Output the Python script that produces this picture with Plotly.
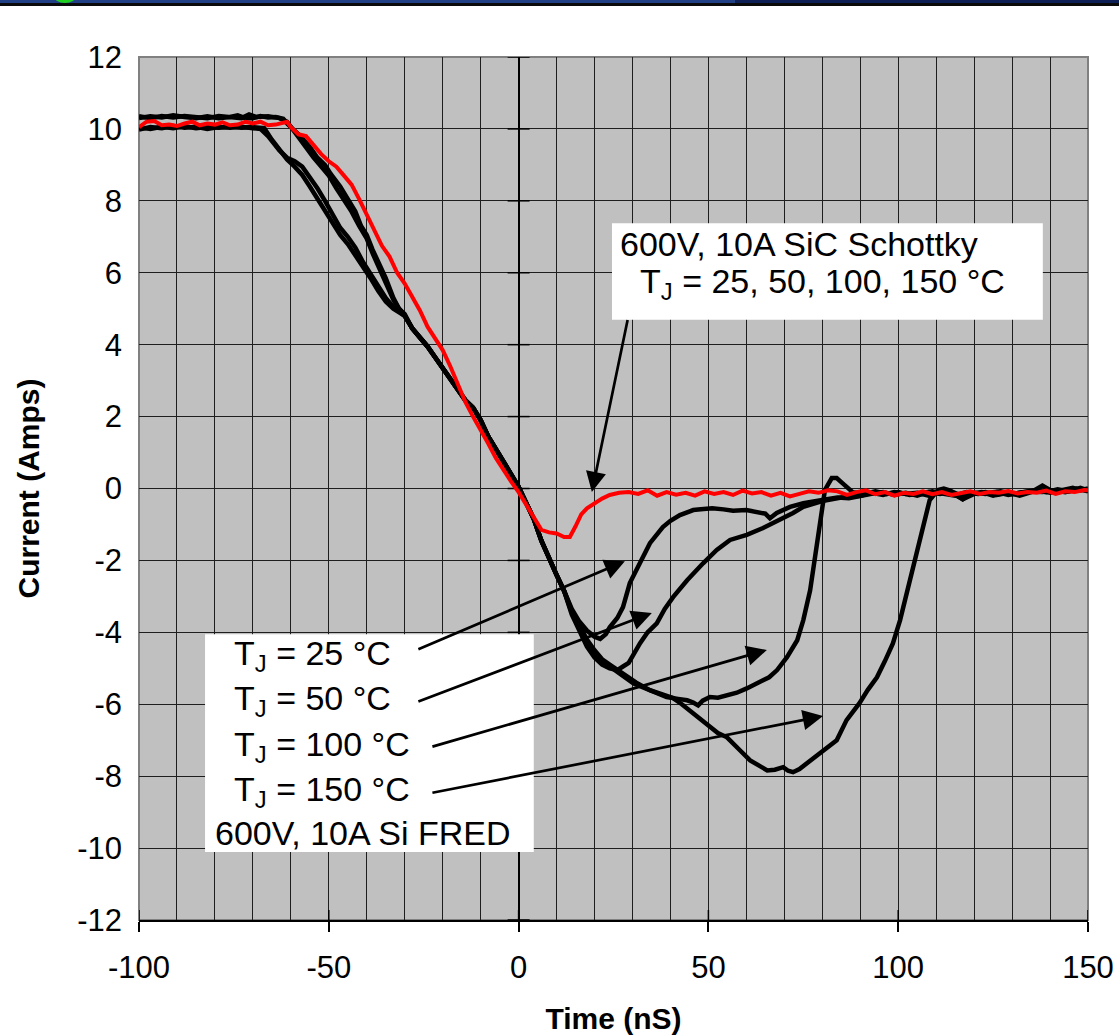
import plotly.graph_objects as go

# ---------------- data ----------------
# SiC Schottky (red)
sic_t = [-100, -98, -96, -94, -92, -90, -88, -86, -84, -82, -80, -78, -76, -74, -72, -70, -68, -66, -64, -62,
         -61, -60, -58, -56, -54, -52, -50, -48, -46, -44, -42, -40, -38, -36, -34, -32, -30, -28, -26, -24,
         -22, -20, -18, -16, -14, -12, -10, -8, -6, -4, -2, 0, 2, 4, 6, 8, 10, 12, 13.5, 15, 16.5, 18, 20, 22,
         24, 26.5, 29, 31.5, 34, 36.5, 39, 41.5, 44, 46.5, 49, 51.5, 54, 56.5, 59, 61.5, 64, 66.5, 69, 71.5,
         74, 76.5, 79, 81.5, 84, 86.5, 89, 91.5, 94, 96.5, 99, 101.5, 104, 106.5, 109, 111.5, 114, 116.5, 119,
         121.5, 124, 126.5, 129, 131.5, 134, 136.5, 139, 141.5, 144, 146.5, 149, 150]
sic_i = [10.05, 10.2, 10.22, 10.1, 10.12, 10.08, 10.15, 10.2, 10.1, 10.15, 10.12, 10.18, 10.1, 10.12, 10.2, 10.15, 10.2, 10.1, 10.12, 10.18,
         10.2, 10.05, 9.85, 9.8, 9.55, 9.3, 9.1, 8.95, 8.7, 8.45, 8.05, 7.6, 7.2, 6.75, 6.45, 6.0, 5.7, 5.35, 4.95, 4.5,
         4.15, 3.85, 3.4, 2.9, 2.4, 2.0, 1.65, 1.25, 0.85, 0.5, 0.2, -0.1, -0.45, -0.85, -1.15, -1.22, -1.25, -1.35, -1.35, -1.05, -0.72, -0.55, -0.4, -0.28,
         -0.18, -0.12, -0.1, -0.15, -0.05, -0.2, -0.1, -0.17, -0.12, -0.2, -0.08, -0.15, -0.1, -0.18, -0.06, -0.14, -0.1, -0.2, -0.12, -0.22,
         -0.15, -0.08, -0.12, -0.05, -0.08, -0.18, -0.1, -0.05, -0.16, -0.1, -0.2, -0.12, -0.15, -0.08, -0.16, -0.1, -0.18, -0.12, -0.08,
         -0.15, -0.1, -0.12, -0.07, -0.14, -0.1, -0.12, -0.06, -0.15, -0.08, -0.1, -0.04, -0.05]

# common FRED descent (all four Si FRED curves overlap here)
common_t = [-28, -26, -24, -22, -20, -18, -16, -14, -12, -10, -8, -6, -4, -2, 0, 2, 4, 6, 8, 10, 12]
common_i = [4.45, 4.2, 3.95, 3.65, 3.35, 3.05, 2.8, 2.45, 2.25, 1.9, 1.45, 1.1, 0.75, 0.35, 0.05, -0.4, -0.85, -1.45, -1.95, -2.4, -2.85]

# Si FRED, TJ = 25 C
f25_start_t = [-100, -97, -94, -91, -88, -85, -82, -79, -76, -73, -70, -68, -66, -65, -63, -61, -59, -57, -55, -53,
               -51, -49, -47, -45, -43, -41, -39, -37, -35, -33, -31, -30]
f25_start_i = [9.98, 10.05, 10.02, 10.08, 10.03, 10.06, 10.0, 10.05, 10.03, 10.06, 10.02, 10.0, 9.8, 9.65, 9.4, 9.2, 9.1, 8.95, 8.67, 8.35,
               8.0, 7.6, 7.25, 7.0, 6.7, 6.3, 5.95, 5.6, 5.3, 5.05, 4.9, 4.8]
f25_end_t = [14, 16, 18, 20, 21.5, 23, 24, 26, 27.5, 29.3, 32, 34.6, 38, 40, 42.5, 46, 48, 51, 54, 56.5, 60, 62.8, 65,
             66.2, 68, 71.5, 75, 80, 84, 87, 90, 93, 96, 99, 102, 105, 108, 111, 114, 117, 120, 123, 126, 129, 132,
             135, 138, 141, 144, 147, 150]
f25_end_i = [-3.35, -3.7, -3.95, -4.12, -4.18, -4.05, -3.86, -3.6, -3.3, -2.63, -2.08, -1.52, -1.07, -0.9, -0.74, -0.6, -0.58, -0.55, -0.58, -0.62, -0.6, -0.65, -0.7,
             -0.83, -0.68, -0.51, -0.41, -0.32, -0.25, -0.27, -0.2, -0.15, -0.1, -0.18, -0.12, -0.2, -0.1, -0.15, -0.08, -0.22, -0.12, -0.15, -0.1, -0.18, -0.12,
             -0.08, -0.1, -0.05, -0.1, -0.02, -0.05]

# Si FRED, TJ = 50 C
f50_start_t = [-100, -97, -94, -91, -88, -85, -82, -79, -76, -73, -70, -67, -65, -63, -61, -59, -57, -55, -53, -51,
               -49, -47, -45, -43, -41, -39, -37, -35, -33, -31, -30]
f50_start_i = [10.05, 10.0, 10.06, 10.02, 10.07, 10.02, 10.05, 10.03, 10.07, 10.03, 10.05, 10.02, 9.7, 9.4, 9.15, 8.95, 8.72, 8.4, 8.05, 7.7,
               7.35, 7.05, 6.8, 6.5, 6.2, 5.85, 5.5, 5.2, 5.0, 4.88, 4.8]
f50_end_t = [14, 16, 18, 20, 22, 24, 26, 27.5, 29, 32, 34, 36.4, 38.5, 40.7, 44.4, 48.6, 52.2, 55.7, 58, 60.1, 64.4,
             68.9, 72.3, 75, 78, 80, 85, 90, 93, 96, 99, 102, 105, 108, 111, 114, 117, 120, 123, 126, 129, 132, 135,
             138, 141, 144, 147, 150]
f50_end_i = [-3.5, -3.95, -4.4, -4.7, -4.9, -5.0, -5.05, -4.95, -4.85, -4.3, -4.0, -3.75, -3.35, -3.02, -2.55, -2.08, -1.71, -1.43, -1.35, -1.29, -1.1,
             -0.88, -0.68, -0.51, -0.4, -0.35, -0.25, -0.2, -0.12, -0.18, -0.1, -0.15, -0.12, -0.2, -0.1, -0.12, -0.3, -0.15, -0.1, -0.18, -0.12, -0.2, -0.1,
             0.08, -0.1, -0.05, 0.0, -0.08]

# Si FRED, TJ = 100 C
f100_start_t = [-100, -97, -94, -91, -88, -85, -82, -79, -76, -74, -72, -70, -68, -66, -64, -62, -61, -59, -57.5, -55,
                -53, -51, -49.5, -47, -45, -43, -41.5, -40, -38.5, -37, -35, -33, -31.5, -30]
f100_start_i = [10.3, 10.35, 10.32, 10.38, 10.33, 10.3, 10.35, 10.3, 10.33, 10.38, 10.3, 10.3, 10.36, 10.32, 10.33, 10.28, 10.15, 9.95, 9.8, 9.5,
                9.2, 9.0, 8.75, 8.4, 8.05, 7.7, 7.3, 7.05, 6.65, 6.3, 5.85, 5.3, 5.0, 4.8]
f100_end_t = [14, 16, 18, 20, 22, 24, 26, 28, 30.2, 32, 34.6, 37, 39, 42, 44.4, 46, 47.3, 48.5, 50.4, 52.5, 54.9, 57.5,
              60.1, 62, 64.4, 66, 68.1, 70.7, 73.4, 75, 76.8, 78.1, 79.4, 80.7, 82.5, 83.8, 85.3, 86.8, 88, 91, 94, 97,
              100, 103, 106, 109, 112, 115, 118, 121, 124, 127, 130, 133, 136, 139, 142, 145, 148, 150]
f100_end_i = [-3.45, -3.85, -4.25, -4.55, -4.8, -4.95, -5.1, -5.25, -5.42, -5.5, -5.61, -5.72, -5.8, -5.85, -5.89, -5.95, -6.03, -5.9, -5.8, -5.82, -5.75, -5.68,
              -5.56, -5.45, -5.33, -5.25, -5.05, -4.69, -4.22, -3.66, -2.83, -1.91, -0.79, -0.04, 0.29, 0.29, 0.15, 0.01, -0.1, -0.15, -0.08, -0.15,
              -0.1, -0.18, -0.12, -0.08, -0.15, -0.2, -0.1, -0.15, -0.12, -0.08, -0.15, -0.1, -0.05, -0.1, -0.02, -0.08, 0.02, -0.05]

# Si FRED, TJ = 150 C
f150_start_t = [-100, -97, -94, -91, -88, -85, -82, -79, -76, -73, -71, -69, -66, -63, -61, -60, -58, -56, -54, -52,
                -50, -48, -46, -44, -42, -40, -38.5, -37, -35, -33, -31.5, -30]
f150_start_i = [10.35, 10.3, 10.36, 10.32, 10.36, 10.33, 10.3, 10.36, 10.32, 10.3, 10.4, 10.33, 10.35, 10.3, 10.2, 10.05, 9.75, 9.5, 9.2, 8.95,
                8.7, 8.35, 8.05, 7.7, 7.3, 6.95, 6.55, 6.2, 5.75, 5.25, 5.0, 4.85]
f150_end_t = [14, 16, 18, 20, 22, 24, 26, 28.5, 31, 34.6, 37, 40.7, 43, 46, 48, 50.4, 52.5, 54.9, 56.5, 58.3, 61, 63,
              65.5, 67.5, 69.7, 71, 72.3, 74, 76, 78, 80.2, 83.8, 86.4, 89.8, 92, 94.4, 96.5, 98.6, 100.5, 103, 105.7,
              108.3, 110.5, 112, 113.5, 115, 117, 119, 122, 125, 128, 131, 134, 137, 140, 143, 146, 148, 150]
f150_end_i = [-3.4, -3.8, -4.2, -4.5, -4.75, -4.9, -5.05, -5.25, -5.4, -5.61, -5.7, -5.83, -6.0, -6.25, -6.45, -6.64, -6.8, -6.92, -7.1, -7.28, -7.56, -7.7,
              -7.84, -7.82, -7.75, -7.85, -7.89, -7.8, -7.64, -7.45, -7.28, -7.0, -6.44, -5.97, -5.6, -5.25, -4.8, -4.31, -3.66, -2.55, -1.44,
              -0.32, -0.04, 0.0, -0.05, -0.15, -0.3, -0.15, -0.1, -0.2, -0.12, -0.15, -0.1, -0.05, -0.12, -0.05, 0.02, -0.05, 0.0]

x_tick_vals = [-100, -50, 0, 50, 100, 150]
x_tick_text = ["-100", "-50", "0", "50", "100", "150"]
y_tick_vals = [-12, -10, -8, -6, -4, -2, 0, 2, 4, 6, 8, 10, 12]
y_tick_text = ["-12", "-10", "-8", "-6", "-4", "-2", "0", "2", "4", "6", "8", "10", "12"]

fred_labels = ["T<sub>J</sub> = 25 °C", "T<sub>J</sub> = 50 °C", "T<sub>J</sub> = 100 °C", "T<sub>J</sub> = 150 °C"]

# ---------------- figure ----------------
FONT = "Liberation Sans, Arial, sans-serif"
fig = go.Figure()

fred_curves = [
    (f25_start_t, f25_start_i, f25_end_t, f25_end_i),
    (f50_start_t, f50_start_i, f50_end_t, f50_end_i),
    (f100_start_t, f100_start_i, f100_end_t, f100_end_i),
    (f150_start_t, f150_start_i, f150_end_t, f150_end_i),
]
for st, si, et, ei in fred_curves:
    fig.add_trace(go.Scatter(x=st + common_t + et, y=si + common_i + ei, mode="lines",
                             line=dict(color="black", width=4.5), hoverinfo="skip"))
fig.add_trace(go.Scatter(x=sic_t, y=sic_i, mode="lines", line=dict(color="#ff0000", width=4), hoverinfo="skip"))

GRID = "#1e1e1e"
fig.update_layout(
    width=1119, height=1035,
    margin=dict(l=139, r=31, t=57, b=115),
    paper_bgcolor="white", plot_bgcolor="#c0c0c0",
    showlegend=False,
    font=dict(family=FONT, color="black", size=31),
    xaxis=dict(range=[-100, 150], tickvals=x_tick_vals, ticktext=x_tick_text,
               automargin=False,
               showgrid=True, gridcolor=GRID, gridwidth=1,
               minor=dict(dtick=10, tick0=-100, showgrid=True, gridcolor=GRID, gridwidth=1),
               zeroline=True, zerolinecolor="black", zerolinewidth=1.5,
               ticks="outside", ticklen=10, tickcolor="black", tickwidth=1.5,
               showline=True, linecolor="black", linewidth=1.5,
               ticklabelstandoff=9,
               tickfont=dict(size=31),
               title=dict(text="<b>Time (nS)</b>", font=dict(size=30), standoff=29)),
    yaxis=dict(range=[-12, 12], tickvals=y_tick_vals, ticktext=y_tick_text,
               automargin=False,
               showgrid=True, gridcolor=GRID, gridwidth=1, zeroline=False,
               ticks="", showline=False, ticklabelstandoff=16,
               tickfont=dict(size=31),
               title=dict(text="<b>Current (Amps)</b>", font=dict(size=30), standoff=28)),
)

shapes = []
# plot border (grey)
shapes.append(dict(type="rect", xref="paper", yref="paper", x0=0, x1=1, y0=0, y1=1,
                   line=dict(color="#808080", width=2), fillcolor="rgba(0,0,0,0)", layer="between"))
# crossing ticks on the vertical axis at t = 0
for v in y_tick_vals:
    shapes.append(dict(type="line", xref="x", yref="y", xsizemode="pixel", xanchor=0, x0=-11, x1=11,
                       y0=v, y1=v, line=dict(color="black", width=1.5), layer="between"))
# crossing ticks on the bottom axis
for v in x_tick_vals:
    shapes.append(dict(type="line", xref="x", yref="y", ysizemode="pixel", yanchor=-12, y0=-10, y1=10,
                       x0=v, x1=v, line=dict(color="black", width=1.5), layer="between"))
# white label boxes
shapes.append(dict(type="rect", xref="x", yref="y", x0=24.6, x1=138.1, y0=4.69, y1=7.38,
                   fillcolor="white", line=dict(width=0), layer="above"))
shapes.append(dict(type="rect", xref="x", yref="y", x0=-82.6, x1=4.0, y0=-10.11, y1=-4.05,
                   fillcolor="white", line=dict(width=0), layer="above"))
# header bar
shapes.append(dict(type="rect", xref="paper", yref="paper", x0=-0.147, x1=0.628, y0=1.0626, y1=1.067,
                   fillcolor="#213f85", line=dict(width=0), layer="above"))
shapes.append(dict(type="rect", xref="paper", yref="paper", x0=0.628, x1=1.033, y0=1.0626, y1=1.067,
                   fillcolor="#0d1f55", line=dict(width=0), layer="above"))
shapes.append(dict(type="rect", xref="paper", yref="paper", x0=-0.147, x1=1.033, y0=1.059, y1=1.0626,
                   fillcolor="#0a0a0a", line=dict(width=0), layer="above"))
shapes.append(dict(type="circle", xref="paper", yref="paper", x0=-0.0896, x1=-0.0664, y0=1.0626, y1=1.078,
                   fillcolor="#1fd01f", line=dict(width=0), layer="above"))
fig.update_layout(shapes=shapes)

ann = []
TXT = dict(size=34, family=FONT, color="black")
ann.append(dict(x=26.2, y=6.79, xref="x", yref="y", text="600V, 10A SiC Schottky", showarrow=False,
                xanchor="left", yanchor="middle", font=TXT))
ann.append(dict(x=31.4, y=5.70, xref="x", yref="y", text="T<sub>J</sub> = 25, 50, 100, 150 °C", showarrow=False,
                xanchor="left", yanchor="middle", font=TXT))
for lab, yy in zip(fred_labels, [-4.64, -5.89, -7.17, -8.42]):
    ann.append(dict(x=-75.5, y=yy, xref="x", yref="y", text=lab, showarrow=False,
                    xanchor="left", yanchor="middle", font=TXT))
ann.append(dict(x=-80.5, y=-9.59, xref="x", yref="y", text="600V, 10A Si FRED", showarrow=False,
                xanchor="left", yanchor="middle", font=TXT))
# arrows (tail -> head)
arrows = [((-26.8, -4.49), (28.0, -2.02)),
          ((-26.8, -5.94), (35.1, -3.46)),
          ((-23.1, -7.19), (65.4, -4.49)),
          ((-23.1, -8.47), (80.2, -6.33)),
          ((28.8, 4.73), (19.3, -0.10))]
for (tx, ty), (hx, hy) in arrows:
    ann.append(dict(x=hx, y=hy, ax=tx, ay=ty, xref="x", yref="y", axref="x", ayref="y",
                    text="", showarrow=True, arrowhead=2, arrowsize=1.5, arrowwidth=2.7,
                    arrowcolor="black", standoff=0, startstandoff=0))
fig.update_layout(annotations=ann)

fig.write_html("out.html")
